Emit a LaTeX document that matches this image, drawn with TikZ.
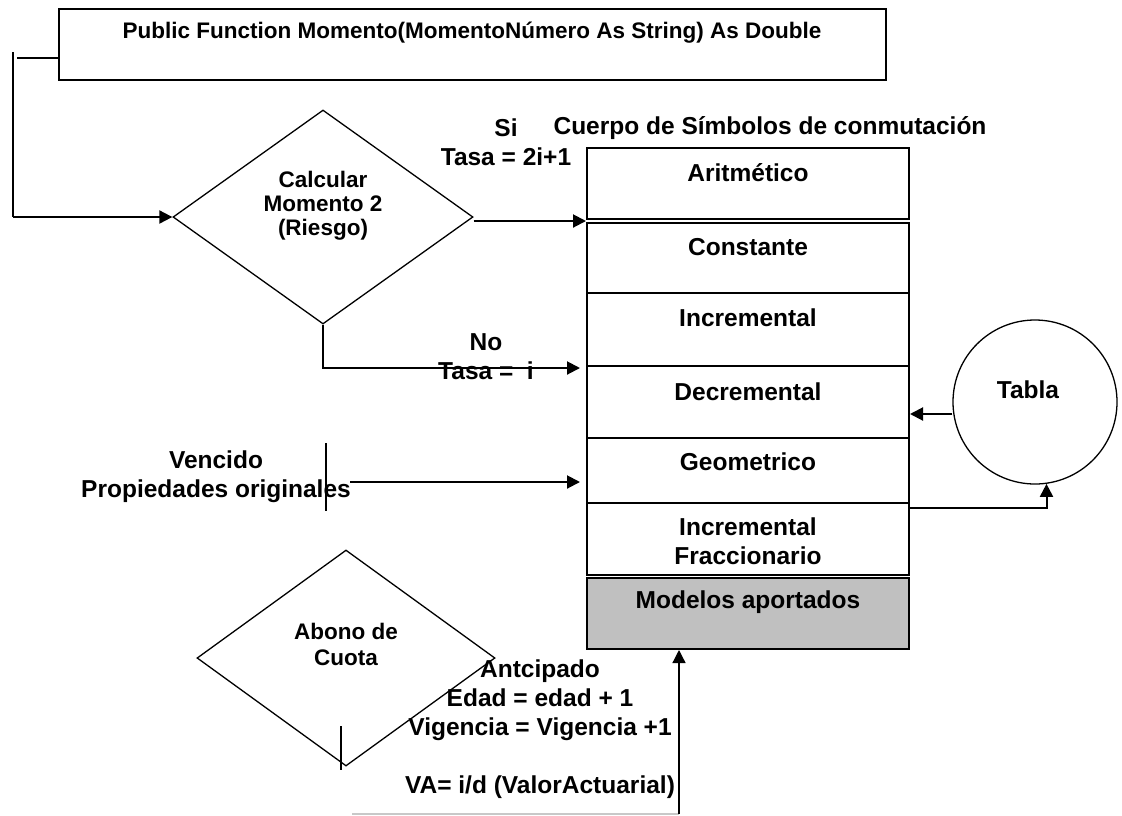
\documentclass[tikz,border=0pt]{standalone}
\usepackage{fontspec}
\setmainfont{Liberation Sans}
\usetikzlibrary{arrows.meta, shapes.geometric, calc}
\definecolor{gris}{HTML}{C0C0C0}
\definecolor{grisclaro}{HTML}{C8C8C8}
\tikzset{
  caja/.style={draw, line width=2pt, rectangle, inner sep=0pt},
  rombo/.style={draw, diamond, line width=1.3pt, inner sep=0pt},
  fila/.style={draw, line width=2pt, minimum width=322pt, inner sep=0pt},
  etiq/.style={font=\fontsize{24.5}{29}\selectfont\bfseries, align=center, inner sep=0pt},
  chico/.style={font=\fontsize{22.5}{24}\selectfont\bfseries, align=center, inner sep=0pt},
  flecha/.style={line width=2pt, -{Triangle[length=13pt, width=13pt]}},
  linea/.style={line width=1.7pt}
}

\begin{document}
\begin{tikzpicture}[x=1pt, y=-1pt]
    \useasboundingbox (0,0) rectangle (1122,815);
    % Encabezado
    \node[caja, minimum width=827pt, minimum height=71pt] (encab) at (472.5,44.5) {};
    \node[chico] (encabTxt) at (472,33) {Public Function Momento(MomentoNúmero As String) As Double};
    \coordinate (ganchoA) at (17,58);
    \coordinate (esqA) at (13,52);
    \coordinate (esqB) at (13,217);
    % Rombo de decision
    \node[rombo, minimum width=300pt, minimum height=214pt] (d1) at (323,217) {};
    \node[chico] (d1Txt) at (323,206) {Calcular\\Momento 2\\(Riesgo)};
    % Pila de modelos
    \node[etiq] (titulo) at (770,128) {Cuerpo de Símbolos de conmutación};
    \foreach \i/\arriba/\abajo/\dy/\lab in {1/148/219/26/Aritmético, 2/223/293/25/Constante,
        3/293/366/26/Incremental, 4/366/438/27/Decremental, 5/438/503/25/Geometrico,
        6/503/575/39/{Incremental\\Fraccionario}} {
      \node[fila, minimum height={(\abajo-\arriba)*1pt}] (f\i) at (748,{(\arriba+\abajo)/2}) {};
      \node[etiq] (e\i) at ([yshift=-\dy pt]f\i.north) {\lab};
    }
    \node[fila, fill=gris, minimum height=71pt] (f7) at (748,613.5) {};
    \node[etiq] (e7) at ([yshift=-25pt]f7.north) {Modelos aportados};
    % Ramas
    \node[etiq] (si) at (506,142.5) {Si\\Tasa = 2i+1};
    \node[etiq] (no) at (486,357) {No\\Tasa =\ \ i};
    \node[etiq] (venc) at (216,477) {Vencido\\Propiedades originales};
    \coordinate (vA) at (326,443);
    \coordinate (vB) at (326,511);
    \coordinate (vC) at (350,482);
    % Tabla
    \node[draw, circle, line width=1.3pt, minimum size=164pt, inner sep=0pt] (tabla) at (1035,402) {};
    \node[etiq] (tablaTxt) at (1028,390) {Tabla};
    % Abono
    \node[rombo, minimum width=298pt, minimum height=216pt] (d2) at (346,658) {};
    \node[chico, font=\fontsize{22.5}{26}\selectfont\bfseries] (d2Txt) at (346,644) {Abono de\\Cuota};
    \node[etiq] (anticip) at (540,729) {Antcipado\\Edad = edad + 1\\Vigencia = Vigencia +1\\[29pt]VA= i/d (ValorActuarial)};
    \coordinate (dA) at (341,726);
    \coordinate (dB) at (341,770);
    \coordinate (baseA) at (352,814);
    \coordinate (baseB) at (679,814);
    % Conectores
    \draw[linea] (ganchoA) -- (ganchoA -| encab.west);
    \draw[linea] (esqA) -- (esqB);
    \draw[flecha] (esqB) -- (d1.west);
    \draw[flecha] ([yshift=-4pt]d1.east) -- ([yshift=-4pt]d1.east -| f2.west);
    \draw[flecha, shorten >=6pt] (d1.south) |- ([yshift=-3pt]f4.north west);
    \draw[linea] (vA) -- (vB);
    \draw[flecha, shorten >=6pt] (vC) -- (vC -| f5.west);
    \draw[flecha] ([yshift=-12pt]tabla.west) -- ([yshift=-12pt]tabla.west -| f4.east);
    \draw[flecha] ([yshift=-6pt]f6.north east) -| (tabla.-82);
    \draw[line width=1.3pt] (dA) -- (dB);
    \draw[grisclaro, line width=1.5pt] (baseA) -- (baseB);
    \draw[flecha, line width=1.3pt] (baseB) -- (baseB |- f7.south);
\end{tikzpicture}
\end{document}
